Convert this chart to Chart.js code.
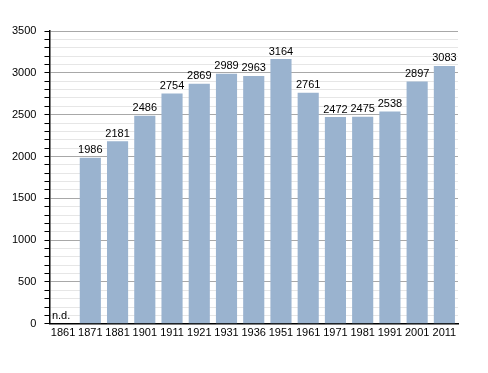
<!DOCTYPE html>
<html>
<head>
<meta charset="utf-8">
<script src="https://cdn.jsdelivr.net/npm/chart.js@4/dist/chart.umd.min.js"></script>
<style>
  html, body { margin: 0; padding: 0; background: #fff; }
  #wrap { width: 488px; height: 373px; }
</style>
</head>
<body>
<div id="wrap"><canvas id="popChart"></canvas></div>
<script>
// census years and population (1861 has no data)
var years = ['1861', '1871', '1881', '1901', '1911', '1921', '1931', '1936', '1951', '1961', '1971', '1981', '1991', '2001', '2011'];
var population = [null, 1986, 2181, 2486, 2754, 2869, 2989, 2963, 3164, 2761, 2472, 2475, 2538, 2897, 3083];
var missingLabel = 'n.d.';

Chart.defaults.font.family = '"Liberation Sans", Arial, sans-serif';
Chart.defaults.font.size = 11;
Chart.defaults.color = '#000';

// writes the value above each bar, "n.d." where there is none
var valueLabels = {
    id: 'valueLabels',
    afterDatasetsDraw: function (chart) {
        var ctx = chart.ctx;
        var meta = chart.getDatasetMeta(0);
        var y0 = chart.scales.y.getPixelForValue(0);
        ctx.save();
        ctx.font = '11px "Liberation Sans", Arial, sans-serif';
        ctx.fillStyle = '#000';
        ctx.textAlign = 'center';
        ctx.textBaseline = 'bottom';
        meta.data.forEach(function (bar, i) {
            var v = population[i];
            if (v === null) {
                ctx.fillText(missingLabel, bar.x - 2, y0 - 2);
            } else {
                ctx.fillText(String(v), bar.x, bar.y - 2);
            }
        });
        ctx.restore();
    }
};

var ctx = document.getElementById('popChart').getContext('2d');
var chart = new Chart(ctx, {
    type: 'bar',
    data: {
        labels: years,
        datasets: [{
            data: population,
            backgroundColor: '#9ab3cf',
            borderWidth: 0,
            barPercentage: 0.8,
            categoryPercentage: 0.97
        }]
    },
    options: {
        responsive: true,
        maintainAspectRatio: false,
        animation: false,
        layout: { padding: { top: 31, right: 30, bottom: 30, left: 4 } },
        plugins: {
            legend: { display: false },
            tooltip: { enabled: false }
        },
        scales: {
            x: {
                grid: { display: false, drawTicks: false },
                border: { color: '#000', width: 1.5 },
                ticks: { padding: 3, maxRotation: 0, autoSkip: false }
            },
            y: {
                min: 0,
                max: 3500,
                ticks: {
                    stepSize: 100,
                    autoSkip: false,
                    padding: 8,
                    callback: function (v) { return v % 500 === 0 ? v : ''; }
                },
                grid: {
                    color: function (c) {
                        if (c.tick.value === 0) return 'rgba(0,0,0,0)';
                        return c.tick.value % 500 === 0 ? '#a8a8a8' : '#e6e6e6';
                    },
                    tickColor: '#000',
                    tickLength: 5,
                    lineWidth: 1
                },
                border: { color: '#000', width: 1.5 }
            }
        }
    },
    plugins: [valueLabels]
});
</script>
</body>
</html>
